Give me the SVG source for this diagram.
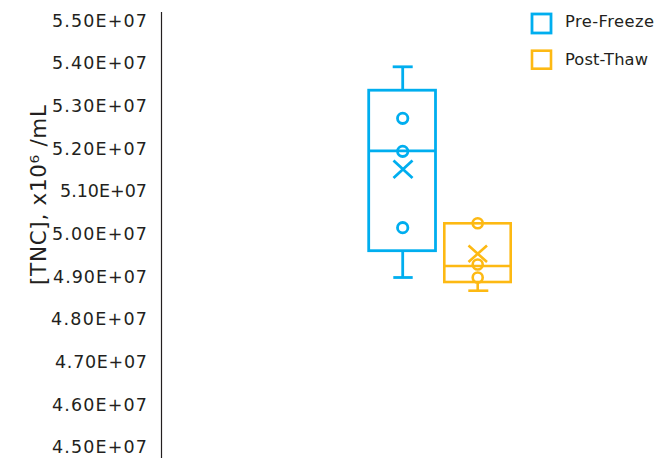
<svg xmlns="http://www.w3.org/2000/svg" width="670" height="459" viewBox="0 0 670 459">
<style>
.tick{font-family:"DejaVu Sans","Liberation Sans",sans-serif;font-size:17.5px;fill:#231f20;text-anchor:end}
.leg{font-family:"DejaVu Sans","Liberation Sans",sans-serif;font-size:16.3px;fill:#231f20}
.title{font-family:"DejaVu Sans","Liberation Sans",sans-serif;font-size:21.5px;fill:#231f20;text-anchor:middle}
.blue{stroke:#00aeef;fill:none;stroke-width:2.8}
.orng{stroke:#fdb913;fill:none;stroke-width:2.6}
</style>
<rect width="670" height="459" fill="#ffffff"/>
<g id="y-axis">
<line x1="161.5" y1="12" x2="161.5" y2="458" stroke="#231f20" stroke-width="1.2"/>
<text class="tick" x="147" y="26.7" textLength="95">5.50E+07</text>
<text class="tick" x="147" y="69.4" textLength="95">5.40E+07</text>
<text class="tick" x="147" y="112.0" textLength="95">5.30E+07</text>
<text class="tick" x="147" y="154.7" textLength="95">5.20E+07</text>
<text class="tick" x="147" y="197.4" textLength="87">5.10E+07</text>
<text class="tick" x="147" y="240.0" textLength="95">5.00E+07</text>
<text class="tick" x="147" y="282.7" textLength="94">4.90E+07</text>
<text class="tick" x="147" y="325.4" textLength="96">4.80E+07</text>
<text class="tick" x="147" y="368.1" textLength="92">4.70E+07</text>
<text class="tick" x="147" y="410.7" textLength="95">4.60E+07</text>
<text class="tick" x="147" y="453.4" textLength="95">4.50E+07</text>
<text class="title" transform="translate(46,195) rotate(-90)" textLength="180">[TNC], x10⁶ /mL</text>
</g>
<g id="legend">
<rect class="blue" x="532" y="14" width="19" height="19"/>
<text class="leg" x="565" y="26.5" textLength="89">Pre-Freeze</text>
<rect class="orng" x="532" y="50.7" width="19" height="18"/>
<text class="leg" x="565" y="64.5" textLength="83">Post-Thaw</text>
</g>
<g id="pre-freeze">
<line class="blue" x1="392.7" y1="66.8" x2="412.7" y2="66.8"/>
<line class="blue" x1="402.7" y1="66.8" x2="402.7" y2="90.2"/>
<rect class="blue" x="368.7" y="90.2" width="66.8" height="160.5"/>
<line class="blue" x1="368.7" y1="150.8" x2="435.5" y2="150.8"/>
<line class="blue" x1="402.7" y1="250.7" x2="402.7" y2="277.5"/>
<line class="blue" x1="393.3" y1="277.5" x2="412.7" y2="277.5"/>
<circle class="blue" cx="402.7" cy="118.3" r="5.2"/>
<circle class="blue" cx="402.7" cy="151.3" r="5.2"/>
<circle class="blue" cx="402.7" cy="227.7" r="5.2"/>
<path class="blue" d="M393.5 160.5 L412.5 178 M412.5 160.5 L393.5 178"/>
</g>
<g id="post-thaw">
<rect class="orng" x="444.3" y="223.3" width="66.4" height="58.7"/>
<line class="orng" x1="444.3" y1="266" x2="510.7" y2="266"/>
<line class="orng" x1="477.7" y1="282" x2="477.7" y2="290.7"/>
<line class="orng" x1="468.3" y1="290.7" x2="488.3" y2="290.7"/>
<circle class="orng" cx="477.7" cy="223.3" r="5"/>
<circle class="orng" cx="477.7" cy="264.5" r="5"/>
<circle class="orng" cx="477.7" cy="277.5" r="5"/>
<path class="orng" d="M468.5 245.5 L487 262 M487 245.5 L468.5 262"/>
</g>
</svg>
